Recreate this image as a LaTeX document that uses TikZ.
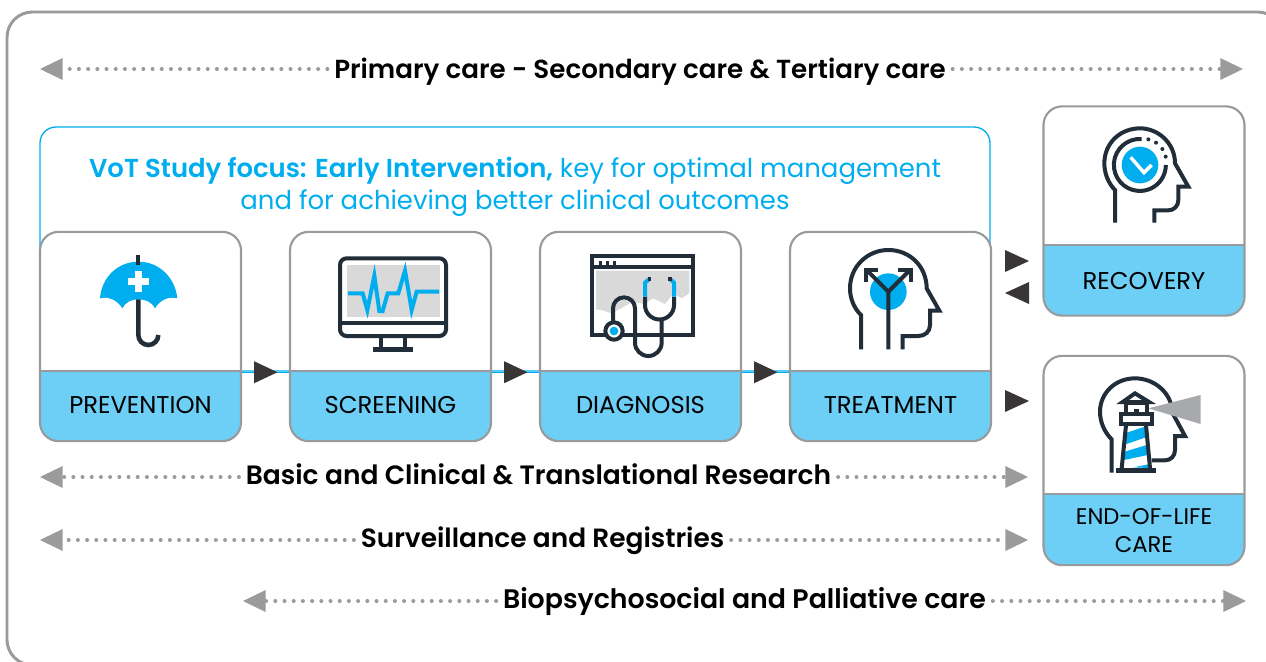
\documentclass[tikz,border=0pt]{standalone}
\usepackage{fontspec}
\setmainfont{Poppins}
\newfontfamily\semi{Poppins SemiBold}
\usetikzlibrary{arrows.meta,decorations.markings}
\definecolor{frameg}{HTML}{999A9C}
\definecolor{bandb}{HTML}{6DCEF6}
\definecolor{cyanb}{HTML}{00AEEF}
\definecolor{darkic}{HTML}{212D38}
\definecolor{darktri}{HTML}{3A3637}
\definecolor{arrowg}{HTML}{9B9B9B}
\definecolor{screeng}{HTML}{D9D9DA}
\definecolor{beamg}{HTML}{A7A9AC}
\tikzset{
 px/.style={x=0.75pt,y=-0.75pt},
 card/.style={draw=frameg,line width=1.6pt,fill=white,rounded corners=14pt,minimum width=150.75pt,minimum height=157pt,inner sep=0pt,
   path picture={
     \fill[bandb,sharp corners] ([yshift=#1*0.75pt]path picture bounding box.south west) rectangle (path picture bounding box.south east);
     \draw[frameg,line width=1.6pt,sharp corners] ([yshift=#1*0.75pt]path picture bounding box.south west) -- ([yshift=#1*0.75pt]path picture bounding box.south east);}},
 cardlabel/.style={font=\fontsize{18.2pt}{21pt}\selectfont,inner sep=0pt,align=center,text=black},
 rowlabel/.style={font=\semi\fontsize{#1pt}{22pt}\selectfont,inner sep=0pt,text=black},
 dotarrow/.style={arrowg,line width=3pt,line cap=round,dash pattern=on 0pt off 6.9pt,shorten <=5pt,
   -{Triangle[length=17pt,width=16.5pt,fill=arrowg,line width=0pt]}},
 flow/.style={cyanb,line width=1pt,postaction={decorate},decoration={markings,mark=at position 0.755 with {\arrow[darktri]{Triangle[length=17.5pt,width=16.5pt,line width=0pt]}}}},
 tri/.style={fill=darktri},
 ic/.style={darkic,line width=3pt},
 icb/.style={cyanb,line width=3pt},
}
\begin{document}
\begin{tikzpicture}[px]
\clip (0,0) rectangle (1266,661);
\fill[white] (0,0) rectangle (1266,661);
\draw[frameg,line width=2.2pt,rounded corners=19pt] (7,12) rectangle (1283,665);

% focus frame
\node[draw=cyanb,line width=1pt,rounded corners=12pt,minimum width=712.5pt,minimum height=183pt,inner sep=0pt] (focus) at (515,249) {};
\node[inner sep=0pt,text=cyanb,align=center,font=\fontsize{19.45pt}{24.2pt}\selectfont] (focustext) at (515,187) {{\semi VoT Study focus: Early Intervention,} key for optimal management\\and for achieving better clinical outcomes};

% cards
\node[card=70] (prev) at (140.5,336.5) {};
\node[card=70] (scr) at (390.5,336.5) {};
\node[card=70] (diag) at (640.5,336.5) {};
\node[card=70] (treat) at (890.5,336.5) {};
\node[card=71] (rec) at (1144,211) {};
\node[card=71] (eol) at (1144,460.5) {};
\node[cardlabel] (lprev) at (140.5,405) {PREVENTION};
\node[cardlabel] (lscr) at (390.5,405) {SCREENING};
\node[cardlabel] (ldiag) at (640.5,405) {DIAGNOSIS};
\node[cardlabel] (ltreat) at (890.5,405) {TREATMENT};
\node[cardlabel] (lrec) at (1144,281) {RECOVERY};
\node[cardlabel,font=\fontsize{17pt}{21pt}\selectfont] (leol) at (1144,531) {END-OF-LIFE\\CARE};

% flow connectors
\draw[flow] ([yshift=52.5pt]prev.south east) -- ([yshift=52.5pt]scr.south west);
\draw[flow] ([yshift=52.5pt]scr.south east) -- ([yshift=52.5pt]diag.south west);
\draw[flow] ([yshift=52.5pt]diag.south east) -- ([yshift=52.5pt]treat.south west);

% free triangles
\fill[tri] (1005,250) -- (1005,272) -- (1029,261) -- cycle;
\fill[tri] (1029,282) -- (1029,304) -- (1005,293) -- cycle;
\fill[tri] (1005,390) -- (1005,412) -- (1029,401) -- cycle;

% rows
\node[rowlabel=19.6] (r1) at (640,72) {Primary care - Secondary care \& Tertiary care};
\coordinate (r1a) at (40,69); \coordinate (r1b) at (1243,69);
\draw[dotarrow] (r1.west|-r1a) -- (r1a); \draw[dotarrow] (r1.east|-r1b) -- (r1b);
\node[rowlabel=19.9] (r2) at (538.5,474) {Basic and Clinical \& Translational Research};
\coordinate (r2a) at (40,477); \coordinate (r2b) at (1028,477);
\draw[dotarrow] (r2.west|-r2a) -- (r2a); \draw[dotarrow] (r2.east|-r2b) -- (r2b);
\node[rowlabel=19.8] (r3) at (542.5,541) {Surveillance and Registries};
\coordinate (r3a) at (40,540); \coordinate (r3b) at (1028,540);
\draw[dotarrow] (r3.west|-r3a) -- (r3a); \draw[dotarrow] (r3.east|-r3b) -- (r3b);
\node[rowlabel=20.1] (r4) at (744.5,602) {Biopsychosocial and Palliative care};
\coordinate (r4a) at (243,601); \coordinate (r4b) at (1246,601);
\draw[dotarrow] (r4.west|-r4a) -- (r4a); \draw[dotarrow] (r4.east|-r4b) -- (r4b);

% umbrella
\begin{scope}[shift={(40,230)},scale=1/3]
\fill[cyanb] (180,205) .. controls (185,140) and (235,95) .. (295,95) .. controls (355,95) and (405,140) .. (412,205)
  .. controls (385,198) and (360,210) .. (345,235) .. controls (335,215) and (315,208) .. (295,208) .. controls (275,208) and (258,215) .. (247,235) .. controls (232,210) and (205,198) .. (180,205) -- cycle;
\draw[ic] (294,75) -- (294,105);
\fill[white] (284,124) rectangle (306,144); \fill[white] (264,144) rectangle (327,165); \fill[white] (284,165) rectangle (306,186);
\draw[ic,line width=3.4pt] (295,208) -- (295,315) arc[start angle=180,end angle=0,radius=30];
% monitor
\fill[screeng] (921,105) rectangle (1200,261);
\draw[ic,rounded corners=5pt] (900,85) rectangle (1218,318);
\draw[ic] (900,278) -- (1218,278);
\draw[ic] (1023,318) -- (1023,355); \draw[ic] (1095,318) -- (1095,355);
\draw[ic,line width=4pt] (999,358) -- (1119,358);
\draw[icb,miter limit=10] (924,190) -- (968,190) -- (982,240) -- (1003,137) -- (1018,243) -- (1028,243) -- (1043,190) -- (1075,190) -- (1095,122) -- (1115,240) -- (1130,185) -- (1197,185);
\end{scope}

% stethoscope and head
\begin{scope}[shift={(530,230)},scale=1/3]
\fill[screeng] (198,122) -- (478,122) -- (478,190) -- (455,205) -- (430,190) -- (405,222) -- (370,205) -- (340,222) -- (310,215) -- (245,250) -- (215,240) -- (198,238) -- cycle;
\draw[ic] (187,78) rectangle (488,316);
\draw[ic] (187,112) -- (488,112);
\fill[darkic] (206,93) rectangle (215,104); \fill[darkic] (228,93) rectangle (237,104); \fill[darkic] (249,93) rectangle (258,104);
\draw[ic] (395,265) -- (395,338) arc[start angle=0,end angle=180,radius=40] -- (315,235) arc[start angle=0,end angle=-180,radius=33] -- (249,280);
\draw[ic] (345,200) -- (345,225) arc[start angle=180,end angle=0,radius=43.5] -- (432,200);
\draw[icb] (345,200) -- (345,158) -- (358,147); \draw[icb] (432,200) -- (432,158) -- (420,147);
\draw[ic,line width=2.5pt] (358,140) -- (358,152); \draw[ic,line width=2.5pt] (420,140) -- (420,152);
\draw[ic,fill=white] (252,303) circle[radius=26];
\fill[cyanb] (252,303) circle[radius=13];
% treatment head
\fill[cyanb] (1075,185) circle[radius=55];
\draw[ic] (993,358) -- (993,255) .. controls (972,235) and (960,205) .. (960,175) .. controls (960,110) and (1012,60) .. (1075,60) .. controls (1140,60) and (1190,110) .. (1190,175) -- (1228,242) -- (1200,242) -- (1200,285) .. controls (1200,305) and (1185,318) .. (1165,318) -- (1118,318) -- (1118,358);
\draw[ic] (1075,358) -- (1075,185) -- (1012,122); \draw[ic] (1075,185) -- (1138,122);
\draw[ic] (1008,155) -- (1008,120) -- (1045,120); \draw[ic] (1142,155) -- (1142,120) -- (1105,120);
\end{scope}

% recovery head
\begin{scope}[shift={(1000,100)},scale=1/3]
\draw[ic] (345,368) -- (345,270) .. controls (325,250) and (313,220) .. (313,190) .. controls (313,130) and (360,85) .. (420,85) .. controls (475,85) and (525,130) .. (525,190) -- (565,260) -- (535,260) -- (535,300) .. controls (535,318) and (522,331) .. (505,331) -- (463,331) -- (463,368);
\fill[cyanb] (420,195) circle[radius=55];
\draw[ic] (425,117) arc[start angle=-86,end angle=-360,radius=78];
\fill[darkic] (445,118) circle[radius=6]; \fill[darkic] (468,128) circle[radius=6]; \fill[darkic] (487,147) circle[radius=6]; \fill[darkic] (497,170) circle[radius=6];
\draw[white,line width=2.6pt] (392,172) -- (432,218) -- (455,195);
\end{scope}

% lighthouse head
\begin{scope}[shift={(1000,350)},scale=1/3]
\draw[ic] (335,368) -- (335,268) .. controls (312,245) and (300,215) .. (300,185) .. controls (300,130) and (345,85) .. (405,85) .. controls (460,85) and (515,125) .. (518,190) -- (555,258) -- (525,258) -- (525,300) .. controls (525,318) and (512,331) .. (495,331) -- (455,331);
\fill[white] (375,160) rectangle (445,225);
\fill[beamg] (445,175) -- (602,135) -- (602,222) -- cycle;
\fill[white] (378,225) -- (438,225) -- (450,355) -- (365,355) -- cycle;
\fill[cyanb] (380,248) -- (435,230) -- (438,262) -- (376,283) -- cycle;
\fill[cyanb] (374,305) -- (440,285) -- (443,315) -- (372,330) -- cycle;
\fill[cyanb] (400,352) -- (445,343) -- (447,354) -- cycle;
\draw[ic] (378,225) -- (365,355); \draw[ic] (438,225) -- (450,355);
\draw[ic] (363,192) rectangle (455,222);
\draw[ic] (378,158) rectangle (440,192);
\fill[darkic] (402,178) rectangle (418,192);
\draw[ic,line join=miter] (368,156) -- (405,130) -- (447,156) -- cycle;
\draw[ic,line width=4pt] (348,362) -- (468,362);
\end{scope}
\end{tikzpicture}
\end{document}
